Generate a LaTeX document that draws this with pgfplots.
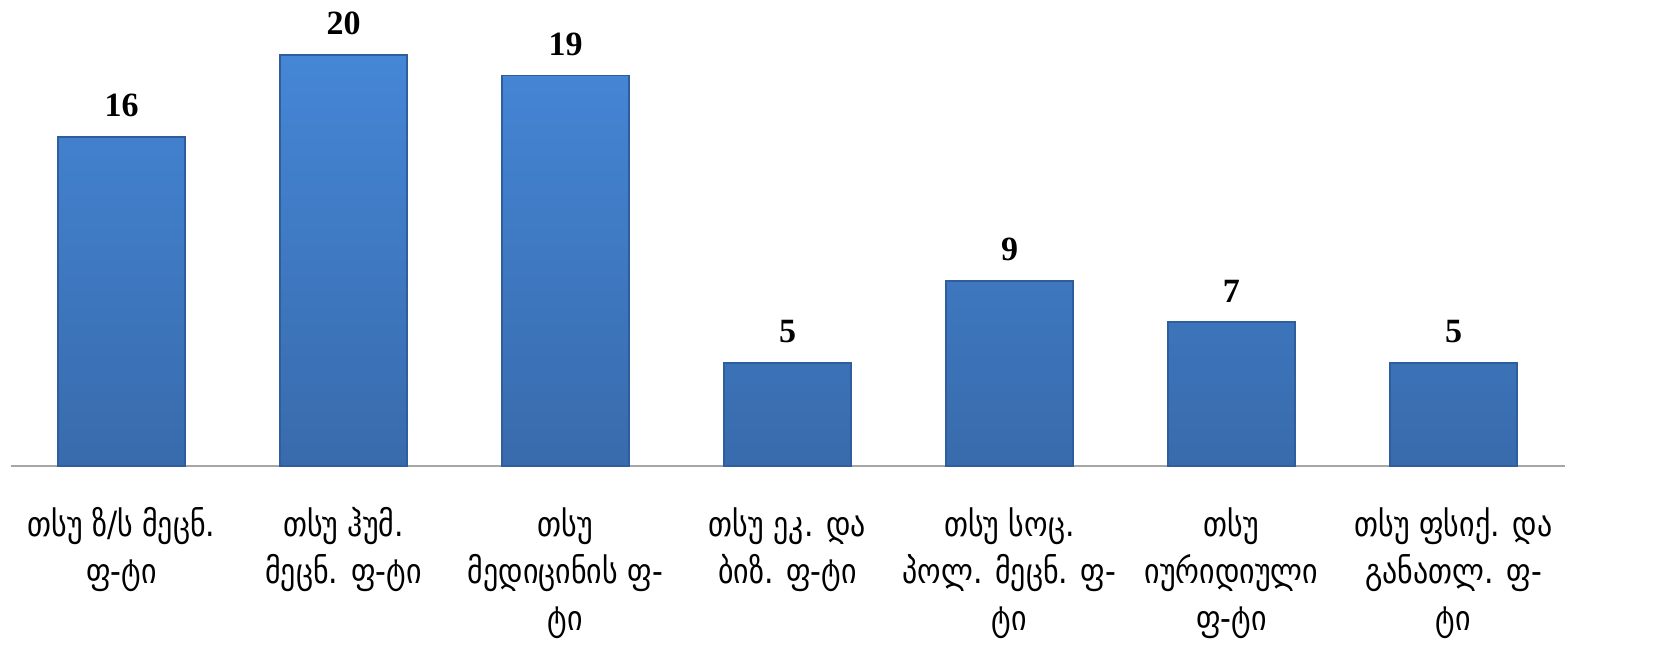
\documentclass[border=0pt]{standalone}
\usepackage{fontspec}
\setmainfont[FakeStretch=0.86]{DejaVu Sans}
\newfontfamily\numfont{Liberation Serif}
\usepackage{pgfplots}
\pgfplotsset{compat=1.18}
\definecolor{bartop}{HTML}{4586D6}
\definecolor{barbottom}{HTML}{386BAC}
\definecolor{baredge}{HTML}{2F5E9E}
\definecolor{axisgray}{HTML}{A6A6A6}
\begin{document}
\begin{tikzpicture}
\begin{axis}[
  x=55.5pt, y=5.137pt,
  anchor=origin, at={(0pt,0pt)},
  xmin=-0.5, xmax=6.5, ymin=0, ymax=22.68,
  axis x line*=bottom, axis y line=none,
  x axis line style={axisgray, line width=0.5pt, -},
  xtick=data, major tick length=0pt,
  xticklabels={
    {თსუ ზ/ს მეცნ.\\ფ-ტი},
    {თსუ ჰუმ.\\მეცნ. ფ-ტი},
    {თსუ\\მედიცინის ფ-\\ტი},
    {თსუ ეკ. და\\ბიზ. ფ-ტი},
    {თსუ სოც.\\პოლ. მეცნ. ფ-\\ტი},
    {თსუ\\იურიდიული\\ფ-ტი},
    {თსუ ფსიქ. და\\განათლ. ფ-\\ტი}},
  xticklabel style={align=center, font=\fontsize{8.7}{11.8}\selectfont, anchor=north, yshift=-6.8pt},
  ybar, bar width=31.75pt,
  nodes near coords={\numfont\bfseries\pgfmathprintnumber[assume math mode=true]{\pgfplotspointmeta}},
  every node near coord/.append style={font=\fontsize{8.5}{10}\selectfont, yshift=1.5pt},
  clip=false,
]
\addplot[top color=bartop, bottom color=barbottom, draw=baredge, line width=0.4pt] coordinates {
  (0,16) (1,20) (2,19) (3,5) (4,9) (5,7) (6,5)};
\end{axis}
\pgfresetboundingbox
\path (-30.375pt,-50.25pt) rectangle (384.625pt,116.5pt);
\end{tikzpicture}
\end{document}
